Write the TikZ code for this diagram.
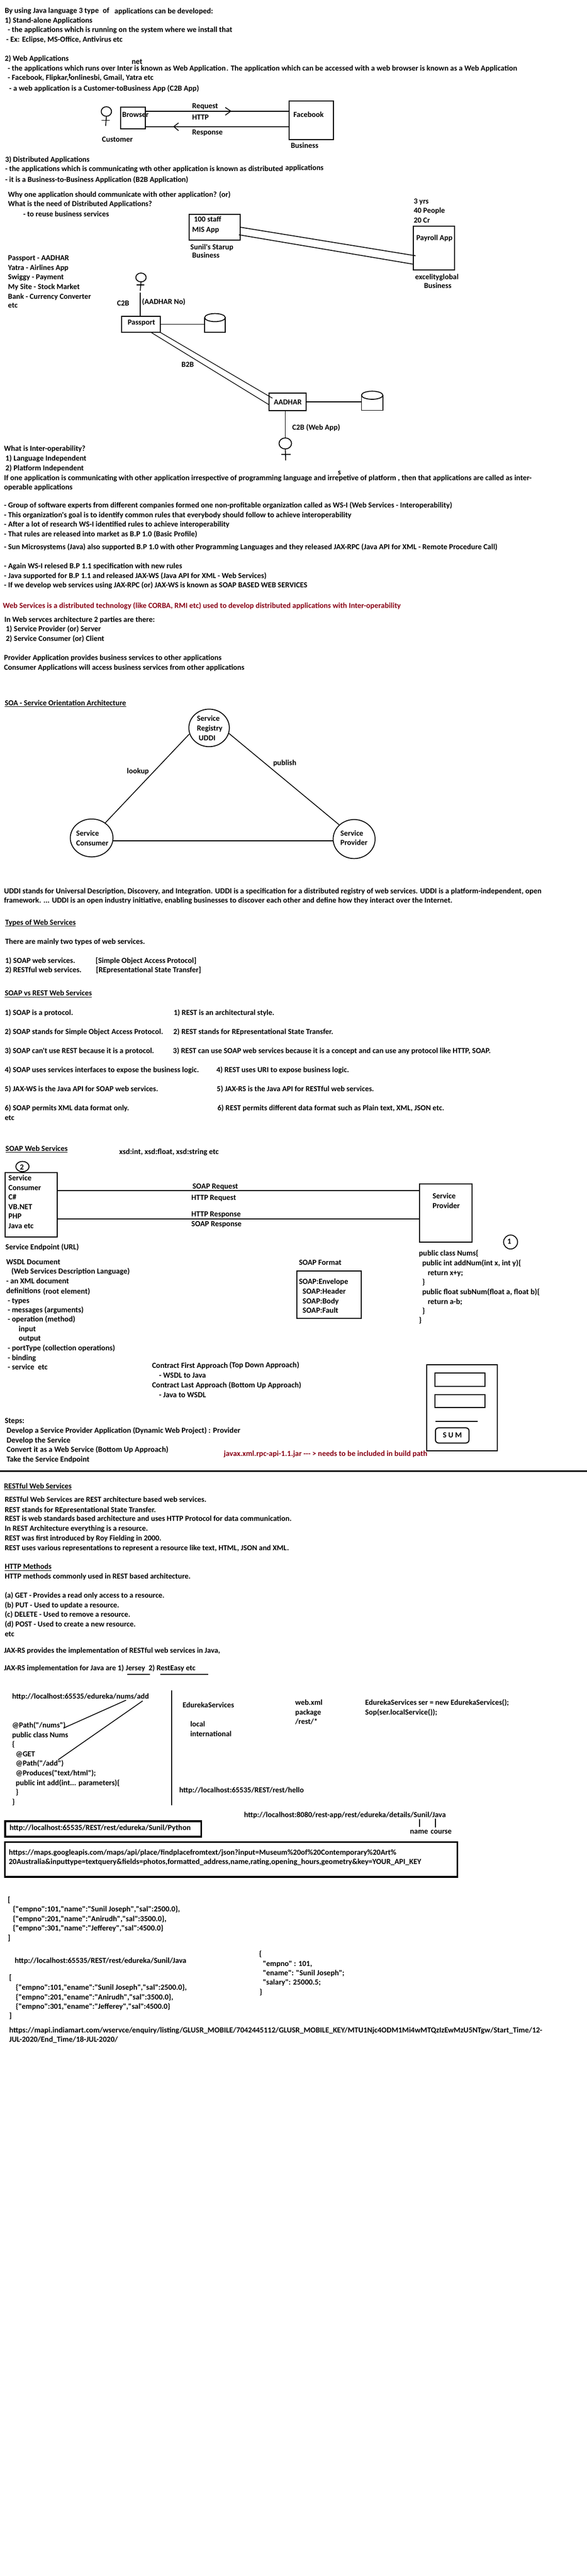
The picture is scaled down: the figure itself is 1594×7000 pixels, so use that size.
\documentclass[tikz,border=0pt]{standalone}
\usepackage{fontspec}
\setmainfont{Carlito}
\newfontfamily\cf{Carlito}
\usetikzlibrary{shapes.geometric}
\definecolor{paintred}{HTML}{880015}
\newcounter{tn}
\newcommand\fs{18.6}
\newsavebox\calbox
\newlength\callen
% choose the font size at which a given string has a given width in pixels
\newcommand\calib[2]{\pgfinterruptpicture\global\setbox\calbox\hbox{\cf\bfseries\fontsize{20}{24}\selectfont #1}\endpgfinterruptpicture
  \callen=\wd\calbox
  \pgfmathsetmacro\fs{#2/\the\callen*20}}
\tikzset{
  txt/.style={anchor=base west,inner sep=0pt,outer sep=0pt,font=\cf\bfseries\fontsize{\fs}{22}\selectfont},
  redtxt/.style={txt,text=paintred},
  ln/.style={draw=black,line width=2.2pt},
  thin ln/.style={draw=black,line width=1.8pt},
  thick ln/.style={draw=black,line width=2.7pt},
  ul/.style={draw=black,line width=1.6pt},
  boxst/.style={draw=black,line width=2.8pt,inner sep=0pt,outer sep=0pt},
  heavy box/.style={boxst,line width=4.5pt},
  hollow/.style={inner sep=0pt,outer sep=0pt},
  ell/.style={ellipse,draw=black,line width=2.4pt,inner sep=0pt,outer sep=0pt}
}
\newcommand\TX[3]{\stepcounter{tn}\node[txt] (t\number\value{tn}) at (#1,#2) {#3};}
\newcommand\RX[3]{\stepcounter{tn}\node[redtxt] (t\number\value{tn}) at (#1,#2) {#3};}
% heading with an underline below its baseline
\newcommand\UL[3]{\stepcounter{tn}\node[txt] (t\number\value{tn}) at (#1,#2) {#3};
  \draw[ul] ([yshift=-3.5pt]t\number\value{tn}.base west) -- ([yshift=-3.5pt]t\number\value{tn}.base east);}
% box: name, x1, y1, x2, y2
\newcommand\BX[6][boxst]{\pgfmathsetmacro\bw{#5-#3}\pgfmathsetmacro\bh{#6-#4}%
  \node[#1,minimum width=\bw pt,minimum height=\bh pt] (#2) at ({(#3+#5)/2},{(#4+#6)/2}) {};}
\newcommand\EL[5]{\node[ell,minimum width=#4pt,minimum height=#5pt] (#1) at (#2,#3) {};}
\begin{document}
\begin{tikzpicture}[x=1pt,y=-1pt]
\useasboundingbox[fill=white] (0,0) rectangle (1594,7000);

% ---------- intro
\calib{- the applications which is running on the system where we install that}{610}
\TX{13}{36}{By using Java language 3 type}
\TX{279}{35}{of}
\TX{311}{37}{applications can be developed:}
\TX{13}{62}{1) Stand-alone Applications}
\TX{21}{88}{- the applications which is running on the system where we install that}
\TX{17}{114}{- Ex: Eclipse, MS-Office, Antivirus etc}
\TX{13}{166}{2) Web Applications}
\TX{358}{174}{net}
\TX{21}{192}{- the applications which runs over Inter is known as Web Application}
\TX{615}{193}{. The application which can be accessed with a web browser is known as a Web Application}
\TX{21}{218}{- Facebook, Flipkar, onlinesbi, Gmail, Yatra etc}
\TX{186}{213}{t}
\TX{25}{247}{- a web application is a Customer-toBusiness App (C2B App)}

% ---------- browser / facebook
\EL{head1}{289}{303}{28}{26}
\draw[ln] (head1.south) -- ++(-2,26) coordinate (stem1);
\draw[ln] (276,327) -- (298,327);
\BX{browser}{327}{291}{395}{350}
\BX{facebook}{786}{274}{906}{379}
\TX{332}{318}{Browser}
\TX{797}{318}{Facebook}
\coordinate (reqy) at (0,302);
\coordinate (resy) at (0,344);
\draw[thick ln] (browser.east |- reqy) -- (facebook.west |- reqy);
\draw[thick ln] (browser.east |- resy) -- (facebook.west |- resy);
\coordinate (reqtip) at (627,302);
\coordinate (restip) at (472,344);
\draw[ln] ([shift={(-15,11)}]reqtip) -- (reqtip) -- ([shift={(-15,-10)}]reqtip);
\draw[ln] ([shift={(13,11)}]restip) -- (restip) -- ([shift={(13,-10)}]restip);
\TX{522}{294}{Request}
\TX{522}{326}{HTTP}
\TX{522}{366}{Response}
\TX{277}{385}{Customer}
\TX{790}{403}{Business}

% ---------- distributed
\calib{- the applications which is communicating wth other application is known as distributed}{755}
\TX{14}{440}{3) Distributed Applications}
\TX{14}{466}{- the applications which is communicating wth other application is known as distributed}
\TX{775}{463}{applications}
\TX{14}{495}{- it is a Business-to-Business Application (B2B Application)}
\TX{22}{535}{Why one application should communicate with other application? (or)}
\TX{22}{561}{What is the need of Distributed Applications?}
\TX{63}{588}{- to reuse business services}
\TX{1124}{553}{3 yrs}
\TX{1124}{579}{40 People}
\TX{1124}{605}{20 Cr}
\BX{mis}{514}{582}{653}{653}
\BX{payroll}{1123}{615}{1235}{734}
\TX{527}{603}{100 staff}
\TX{522}{630}{MIS App}
\TX{517}{678}{Sunil's Starup}
\TX{522}{700}{Business}
\TX{1131}{653}{Payroll App}
\draw[ln] (mis.east) -- ([xshift=6pt,yshift=-20.5pt]payroll.west);
\draw[ln] ([xshift=-4pt,yshift=-20.5pt]mis.east) -- ([yshift=-43.5pt]payroll.west);
\TX{1128}{759}{excelityglobal}
\TX{1152}{783}{Business}
\TX{22}{708}{Passport - AADHAR}
\TX{22}{734}{Yatra - Airlines App}
\TX{22}{760}{Swiggy - Payment}
\TX{22}{786}{My Site - Stock Market}
\TX{22}{812}{Bank - Currency Converter}
\TX{22}{837}{etc}

% ---------- passport / aadhar
\EL{head2}{383}{754}{28}{24}
\draw[ln] (head2.south) -- ++(-2,24);
\draw[ln] (371,774) -- (392,774);
\BX{passport}{330}{860}{435}{903}
\coordinate (c2btop) at (381,795);
\draw[ln] (c2btop) -- (c2btop |- passport.north);
\TX{318}{831}{C2B}
\TX{386}{827}{(AADHAR No)}
\TX{347}{883}{Passport}
\BX[hollow]{db1}{556}{863}{612}{903}
\EL{db1top}{584}{863}{56}{22}
\draw[ln] (db1.north west) -- (db1.south west) -- (db1.south east) -- (db1.north east);
\draw[ln] (passport.east) -- (passport.east -| db1.west);
\BX{aadhar}{731}{1068}{832}{1116}
\TX{744}{1099}{AADHAR}
\draw[thin ln] (passport.south east) -- ([xshift=9pt,yshift=10pt]aadhar.west);
\draw[thin ln] ([xshift=-25pt]passport.south east) -- ([yshift=-8pt]aadhar.west);
\TX{493}{997}{B2B}
\BX[hollow]{db2}{982}{1074}{1040}{1115}
\EL{db2top}{1011}{1074}{58}{22}
\draw[ln] (db2.north west) -- (db2.south west) -- (db2.south east) -- (db2.north east);
\draw[ln] (aadhar.east) -- (aadhar.east -| db2.west);
\EL{head3}{775}{1205}{34}{30}
\draw[ln] (head3.north) -- (head3.north |- aadhar.south);
\draw[ln] (head3.south) -- ++(1,31);
\draw[ln] (765,1235) -- (790,1235);
\TX{794}{1168}{C2B (Web App)}

% ---------- interoperability
\calib{If one application is communicating with other application irrespective of programming language and irrepetive of platform , then that applications are called as inter-}{1433}
\TX{11}{1226}{What is Inter-operability?}
\TX{15}{1252}{1) Language Independent}
\TX{15}{1279}{2) Platform Independent}
\TX{918}{1290}{s}
\TX{11}{1305}{If one application is communicating with other application irrespective of programming language and irrepetive of platform , then that applications are called as inter-}
\TX{11}{1331}{operable applications}
\TX{11}{1380}{- Group of software experts from different companies formed one non-profitable organization called as WS-I (Web Services - Interoperability)}
\TX{11}{1406}{- This organization's goal is to identify common rules that everybody should follow to achieve interoperability}
\TX{11}{1432}{- After a lot of research WS-I identified rules to achieve interoperability}
\TX{11}{1458}{- That rules are released into market as B.P 1.0 (Basic Profile)}
\TX{11}{1493}{- Sun Microsystems (Java) also supported B.P 1.0 with other Programming Languages and they released JAX-RPC (Java API for XML - Remote Procedure Call)}
\TX{11}{1545}{- Again WS-I relesed B.P 1.1 specification with new rules}
\TX{11}{1571}{- Java supported for B.P 1.1 and released JAX-WS (Java API for XML - Web Services)}
\TX{11}{1597}{- If we develop web services using JAX-RPC (or) JAX-WS is known as SOAP BASED WEB SERVICES}
\RX{8}{1652}{Web Services is a distributed technology (like CORBA, RMI etc) used to develop distributed applications with Inter-operability}
\TX{12}{1690}{In Web servces architecture 2 parties are there:}
\TX{16}{1716}{1) Service Provider (or) Server}
\TX{16}{1742}{2) Service Consumer (or) Client}

% ---------- SOA
\calib{Consumer Applications will access business services from other applications}{653}
\TX{11}{1794}{Provider Application provides business services to other applications}
\TX{11}{1820}{Consumer Applications will access business services from other applications}
\UL{13}{1917}{SOA - Service Orientation Architecture}
\EL{registry}{568}{1978}{110}{102}
\EL{consumer}{249}{2277}{116}{103}
\EL{provider}{962}{2280}{114}{106}
\TX{535}{1959}{Service}
\TX{535}{1986}{Registry}
\TX{540}{2012}{UDDI}
\TX{207}{2272}{Service}
\TX{207}{2298}{Consumer}
\TX{925}{2271}{Service}
\TX{925}{2297}{Provider}
\draw[ln] ([xshift=-54pt,yshift=-17pt]registry.center) -- ([xshift=37pt,yshift=41pt]consumer.center);
\draw[ln] ([xshift=54pt,yshift=-15pt]registry.center) -- ([xshift=-41pt,yshift=39pt]provider.center);
\coordinate (soay) at (0,2285);
\draw[thick ln] (consumer.east |- soay) -- (provider.west |- soay);
\TX{345}{2102}{lookup}
\TX{742}{2080}{publish}

% ---------- UDDI, types
\calib{UDDI stands for Universal Description, Discovery, and Integration. UDDI is a specification for a distributed registry of web services. UDDI is a platform-independent, open}{1460}
\TX{11}{2428}{UDDI stands for Universal Description, Discovery, and Integration. UDDI is a specification for a distributed registry of web services. UDDI is a platform-independent, open}
\TX{11}{2454}{framework. ... UDDI is an open industry initiative, enabling businesses to discover each other and define how they interact over the Internet.}
\UL{14}{2513}{Types of Web Services}
\TX{14}{2565}{There are mainly two types of web services.}
\TX{14}{2617}{1) SOAP web services.}
\TX{260}{2617}{[Simple Object Access Protocol]}
\TX{14}{2643}{2) RESTful web services.}
\TX{261}{2643}{[REpresentational State Transfer]}
\UL{13}{2706}{SOAP vs REST Web Services}
\TX{13}{2758}{1) SOAP is a protocol.}
\TX{472}{2758}{1) REST is an architectural style.}
\TX{13}{2810}{2) SOAP stands for Simple Object Access Protocol.}
\TX{471}{2810}{2) REST stands for REpresentational State Transfer.}
\TX{13}{2862}{3) SOAP can't use REST because it is a protocol.}
\TX{470}{2862}{3) REST can use SOAP web services because it is a concept and can use any protocol like HTTP, SOAP.}
\TX{13}{2914}{4) SOAP uses services interfaces to expose the business logic.}
\TX{588}{2914}{4) REST uses URI to expose business logic.}
\TX{13}{2966}{5) JAX-WS is the Java API for SOAP web services.}
\TX{589}{2966}{5) JAX-RS is the Java API for RESTful web services.}
\TX{13}{3018}{6) SOAP permits XML data format only.}
\TX{591}{3018}{6) REST permits different data format such as Plain text, XML, JSON etc.}
\TX{13}{3044}{etc}

% ---------- SOAP web services
\calib{Develop a Service Provider Application (Dynamic Web Project) : Provider}{635}
\UL{15}{3128}{SOAP Web Services}
\TX{324}{3137}{xsd:int, xsd:float, xsd:string etc}
\EL{num2}{61}{3170}{36}{28}
\TX{54}{3178}{2}
\BX{sconsumer}{14}{3187}{155}{3361}
\TX{23}{3208}{Service}
\TX{23}{3234}{Consumer}
\TX{23}{3260}{C\#}
\TX{23}{3286}{VB.NET}
\TX{23}{3311}{PHP}
\TX{23}{3338}{Java etc}
\BX{sprovider}{1140}{3217}{1282}{3376}
\TX{1175}{3257}{Service}
\TX{1175}{3283}{Provider}
\coordinate (sreqy) at (0,3236);
\coordinate (sresy) at (0,3312);
\draw[thick ln] (sconsumer.east |- sreqy) -- (sprovider.west |- sreqy);
\draw[thick ln] (sconsumer.east |- sresy) -- (sprovider.west |- sresy);
\TX{523}{3230}{SOAP Request}
\TX{520}{3261}{HTTP Request}
\TX{520}{3306}{HTTP Response}
\TX{520}{3333}{SOAP Response}
\EL{num1}{1387}{3375}{38}{38}
\TX{1378}{3380}{1}
\TX{15}{3395}{Service Endpoint (URL)}
\TX{17}{3436}{WSDL Document}
\TX{31}{3462}{(Web Services Description Language)}
\TX{17}{3488}{- an XML document}
\TX{17}{3514}{definitions}
\TX{117}{3516}{(root element)}
\TX{21}{3541}{- types}
\TX{21}{3567}{- messages (arguments)}
\TX{21}{3592}{- operation (method)}
\TX{51}{3618}{input}
\TX{51}{3644}{output}
\TX{21}{3670}{- portType (collection operations)}
\TX{21}{3696}{- binding}
\TX{21}{3722}{- service\ \ etc}
\TX{812}{3438}{SOAP Format}
\BX{soapbox}{806}{3454}{982}{3582}
\TX{812}{3490}{SOAP:Envelope}
\TX{822}{3516}{SOAP:Header}
\TX{822}{3542}{SOAP:Body}
\TX{822}{3568}{SOAP:Fault}
\TX{1138}{3413}{public class Nums\{}
\TX{1147}{3439}{public int addNum(int x, int y)\{}
\TX{1162}{3466}{return x+y;}
\TX{1147}{3491}{\}}
\TX{1147}{3517}{public float subNum(float a, float b)\{}
\TX{1162}{3544}{return a-b;}
\TX{1147}{3569}{\}}
\TX{1138}{3595}{\}}
\TX{413}{3718}{Contract First Approach}
\TX{623}{3716}{(Top Down Approach)}
\TX{432}{3744}{- WSDL to Java}
\TX{413}{3771}{Contract Last Approach (Bottom Up Approach)}
\TX{432}{3797}{- Java to WSDL}
\TX{13}{3868}{Steps:}
\TX{18}{3894}{Develop a Service Provider Application (Dynamic Web Project) : Provider}
\TX{18}{3920}{Develop the Service}
\TX{18}{3946}{Convert it as a Web Service (Bottom Up Approach)}
\TX{18}{3972}{Take the Service Endpoint}
\RX{608}{3957}{javax.xml.rpc-api-1.1.jar --- > needs to be included in build path}
\BX{device}{1159}{3709}{1351}{3942}
\BX{field1}{1181}{3731}{1318}{3767}
\BX{field2}{1181}{3790}{1318}{3825}
\draw[thick ln] (1183,3863) -- (1298,3863);
\node[boxst,rounded corners=8pt,minimum width=91pt,minimum height=41pt] (sumbtn) at (1228.5,3900.5) {};
\TX{1203}{3906}{S U M}
\draw[draw=black,line width=4.5pt] (0,3998) -- (1594,3998);

% ---------- RESTful
\calib{REST is web standards based architecture and uses HTTP Protocol for data communication.}{779}
\UL{11}{4045}{RESTful Web Services}
\TX{13}{4082}{RESTful Web Services are REST architecture based web services.}
\TX{13}{4109}{REST stands for REpresentational State Transfer.}
\TX{13}{4134}{REST is web standards based architecture and uses HTTP Protocol for data communication.}
\TX{13}{4160}{In REST Architecture everything is a resource.}
\TX{13}{4187}{REST was first introduced by Roy Fielding in 2000.}
\TX{13}{4213}{REST uses various representations to represent a resource like text, HTML, JSON and XML.}
\UL{13}{4264}{HTTP Methods}
\TX{13}{4290}{HTTP methods commonly used in REST based architecture.}
\TX{13}{4342}{(a) GET - Provides a read only access to a resource.}
\TX{13}{4368}{(b) PUT - Used to update a resource.}
\TX{13}{4394}{(c) DELETE - Used to remove a resource.}
\TX{13}{4420}{(d) POST - Used to create a new resource.}
\TX{13}{4447}{etc}
\TX{11}{4492}{JAX-RS provides the implementation of RESTful web services in Java,}
\TX{11}{4540}{JAX-RS implementation for Java are 1) Jersey\ \ 2) RestEasy etc}
\draw[ul,line width=2.2pt] (346,4550) -- (408,4550);
\draw[ul,line width=2.2pt] (436,4550) -- (565,4550);
\node[txt] (urladd) at (33,4617) {http://localhost:65535/edureka/nums/add};
\node[txt] (pathnums) at (33,4695) {@Path("/nums")};
\node[txt] (pathadd) at (43,4799) {@Path("/add")};
\draw[ln] ([xshift=-62pt,yshift=-3pt]urladd.base east) -- ([xshift=-6pt,yshift=-1pt]pathnums.base east);
\draw[ln] ([xshift=-17pt,yshift=-5pt]urladd.base east) -- ([xshift=-15pt,yshift=17pt]pathadd.base east);
\TX{33}{4721}{public class Nums}
\TX{33}{4747}{\{}
\TX{43}{4773}{@GET}
\TX{43}{4825}{@Produces("text/html");}
\TX{43}{4851}{public int add(int... parameters)\{}
\TX{43}{4877}{\}}
\TX{33}{4903}{\}}
\draw[ln] (466,4594) -- (466,4905);
\TX{496}{4640}{EdurekaServices}
\TX{517}{4692}{local}
\TX{517}{4718}{international}
\TX{802}{4633}{web.xml}
\TX{802}{4660}{package}
\TX{802}{4685}{/rest/*}
\TX{992}{4633}{EdurekaServices ser = new EdurekaServices();}
\TX{992}{4660}{Sop(ser.localService());}
\TX{487}{4871}{http://localhost:65535/REST/rest/hello}
\TX{663}{4939}{http://localhost:8080/rest-app/rest/edureka/details/Sunil/Java}
\TX{1114}{4983}{name}
\TX{1170}{4983}{course}
\draw[draw=black,line width=3pt] (1139,4944) -- (1139,4964);
\draw[draw=black,line width=3pt] (1183,4942) -- (1183,4966);

% ---------- urls and json
\calib{http://localhost:65535/REST/rest/edureka/Sunil/Python}{492}
\BX[heavy box]{urlbox1}{14}{4949}{547}{4991}
\TX{26}{4973}{http://localhost:65535/REST/rest/edureka/Sunil/Python}
\BX[heavy box]{urlbox2}{13}{5006}{1242}{5100}
\TX{24}{5040}{https://maps.googleapis.com/maps/api/place/findplacefromtext/json?input=Museum\%20of\%20Contemporary\%20Art\%}
\TX{24}{5066}{20Australia\&inputtype=textquery\&fields=photos,formatted\_address,name,rating,opening\_hours,geometry\&key=YOUR\_API\_KEY}
\TX{21}{5170}{[}
\TX{35}{5195}{\{"empno":101,"name":"Sunil Joseph","sal":2500.0\},}
\TX{35}{5221}{\{"empno":201,"name":"Anirudh","sal":3500.0\},}
\TX{35}{5247}{\{"empno":301,"name":"Jefferey","sal":4500.0\}}
\TX{21}{5273}{]}
\TX{40}{5334}{http://localhost:65535/REST/rest/edureka/Sunil/Java}
\TX{704}{5317}{\{}
\TX{714}{5343}{"empno" : 101,}
\TX{714}{5368}{"ename": "Sunil Joseph";}
\TX{714}{5394}{"salary": 25000.5;}
\TX{705}{5420}{\}}
\TX{25}{5381}{[}
\TX{43}{5408}{\{"empno":101,"ename":"Sunil Joseph","sal":2500.0\},}
\TX{43}{5434}{\{"empno":201,"ename":"Anirudh","sal":3500.0\},}
\TX{43}{5459}{\{"empno":301,"ename":"Jefferey","sal":4500.0\}}
\TX{25}{5485}{]}
\calib{https://mapi.indiamart.com/wservce/enquiry/listing/GLUSR\_MOBILE/7042445112/GLUSR\_MOBILE\_KEY/MTU1Njc4ODM1Mi4wMTQzIzEwMzU5NTgw/Start\_Time/12-}{1448}
\TX{25}{5523}{https://mapi.indiamart.com/wservce/enquiry/listing/GLUSR\_MOBILE/7042445112/GLUSR\_MOBILE\_KEY/MTU1Njc4ODM1Mi4wMTQzIzEwMzU5NTgw/Start\_Time/12-}
\TX{25}{5549}{JUL-2020/End\_Time/18-JUL-2020/}
\end{tikzpicture}
\end{document}
